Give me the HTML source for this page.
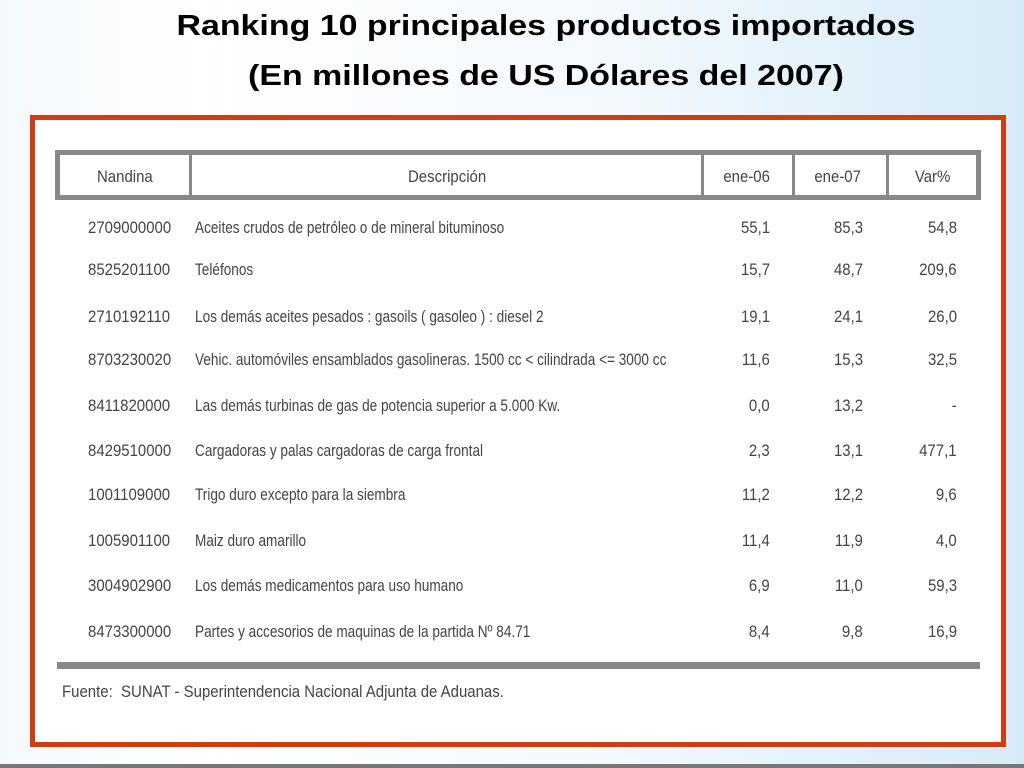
<!DOCTYPE html>
<html><head><meta charset="utf-8">
<style>
body{margin:0;width:1024px;height:768px;overflow:hidden;position:relative;font-family:"Liberation Sans",sans-serif;
background:linear-gradient(90deg,#f4f9fc 0%,#ffffff 20%,#f3f9fd 60%,#d6ebf8 100%);}
.t{position:absolute;left:0;width:1092px;text-align:center;font-weight:bold;font-size:29px;color:#000;transform:scaleX(1.17);transform-origin:546px 0}
#frame{position:absolute;left:30px;top:115px;width:966px;height:622px;border:5px solid #d23c12;background:#fff}
.c{position:absolute;font-size:17px;color:#444;transform:scaleX(0.88);white-space:nowrap;line-height:20px}
.l{transform-origin:left center}
.d{transform:scaleX(0.80)}
.r{transform-origin:right center;text-align:right}
.hb{position:absolute;background:#888}
</style></head><body>
<div class="t" style="top:10px">Ranking 10 principales productos importados</div>
<div class="t" style="top:60px">(En millones de US Dólares del 2007)</div>
<div id="frame"></div>
<div class="hb" style="left:55px;top:150px;width:926px;height:5px"></div>
<div class="hb" style="left:55px;top:195px;width:926px;height:5px"></div>
<div class="hb" style="left:55px;top:150px;width:5px;height:50px"></div>
<div class="hb" style="left:976px;top:150px;width:5px;height:50px"></div>
<div class="hb" style="left:189px;top:155px;width:3px;height:40px"></div>
<div class="hb" style="left:701px;top:155px;width:3px;height:40px"></div>
<div class="hb" style="left:792px;top:155px;width:3px;height:40px"></div>
<div class="hb" style="left:886px;top:155px;width:3px;height:40px"></div>
<div class="c l" style="left:97px;top:167px">Nandina</div>
<div class="c l" style="left:408px;top:167px">Descripción</div>
<div class="c r" style="right:254px;top:167px">ene-06</div>
<div class="c r" style="right:163px;top:167px">ene-07</div>
<div class="c r" style="right:74px;top:167px">Var%</div>
<div class="hb" style="left:57px;top:662px;width:923px;height:7px"></div>
<div class="c l" style="left:62px;top:682px">Fuente:&nbsp; SUNAT - Superintendencia Nacional Adjunta de Aduanas.</div>
<div id="rows"></div>
<script>
const codes=["2709000000","8525201100","2710192110","8703230020","8411820000","8429510000","1001109000","1005901100","3004902900","8473300000"];
const descs=["Aceites crudos de petróleo o de mineral bituminoso","Teléfonos","Los demás aceites pesados : gasoils ( gasoleo ) : diesel 2","Vehic. automóviles ensamblados  gasolineras. 1500 cc < cilindrada <= 3000 cc","Las demás turbinas de gas de potencia superior a 5.000 Kw.","Cargadoras y palas cargadoras de carga frontal","Trigo duro excepto para la siembra","Maiz duro amarillo","Los demás medicamentos para uso humano","Partes y accesorios de maquinas de la partida Nº 84.71"];
const ene06=["55,1","15,7","19,1","11,6","0,0","2,3","11,2","11,4","6,9","8,4"];
const ene07=["85,3","48,7","24,1","15,3","13,2","13,1","12,2","11,9","11,0","9,8"];
const varp=["54,8","209,6","26,0","32,5","-","477,1","9,6","4,0","59,3","16,9"];
const tops=[218,260,307,350,396,441,485,531,576,622];
const root=document.getElementById('rows');
function cell(txt,cls,style,name){const d=document.createElement('div');d.className='c '+cls;d.textContent=txt;d.setAttribute('style',style);


root.appendChild(d);}
codes.forEach((c,i)=>{const t=tops[i];
cell(c,'l','left:88px;top:'+t+'px','nandina-code');
cell(descs[i],'l d','left:195px;top:'+t+'px','description');
cell(ene06[i],'r','right:254px;top:'+t+'px','value-ene-06');
cell(ene07[i],'r','right:161px;top:'+t+'px','value-ene-07');
cell(varp[i],'r','right:67px;top:'+t+'px','value-var');});
</script>
<div style="position:absolute;left:0;top:764px;width:1024px;height:4px;background:#777"></div>
</body></html>
